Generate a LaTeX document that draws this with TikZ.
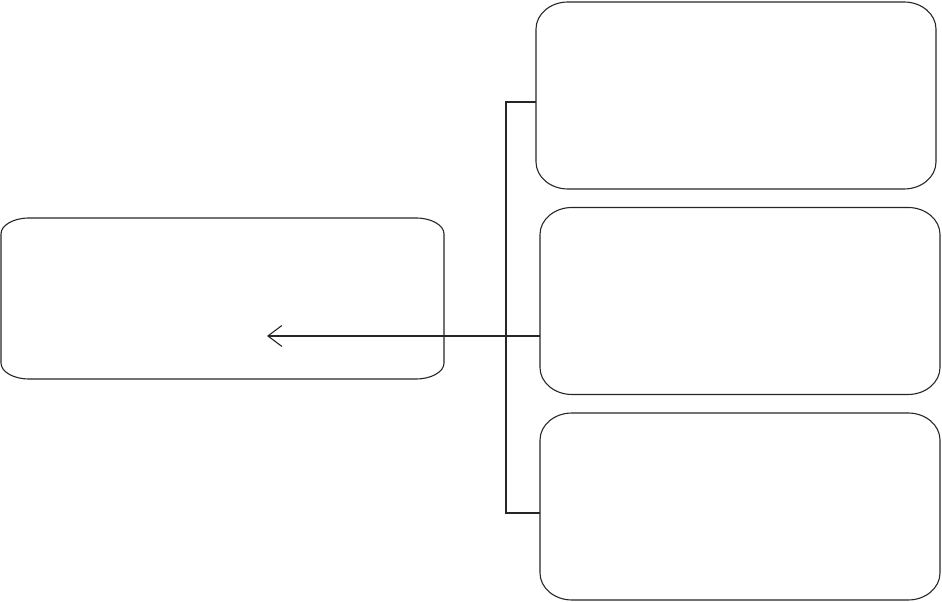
\documentclass[tikz,border=0pt]{standalone}
\usetikzlibrary{arrows.meta}
\newcommand\eroundbox[3]{%
  \draw[boxline] ([xshift=#2pt]#1.north west) -- ([xshift=-#2pt]#1.north east)
    arc[start angle=90, end angle=0, x radius=#2pt, y radius=#3pt]
    -- ([yshift=#3pt]#1.south east)
    arc[start angle=0, end angle=-90, x radius=#2pt, y radius=#3pt]
    -- ([xshift=#2pt]#1.south west)
    arc[start angle=270, end angle=180, x radius=#2pt, y radius=#3pt]
    -- ([yshift=-#3pt]#1.north west)
    arc[start angle=180, end angle=90, x radius=#2pt, y radius=#3pt]
    -- cycle;}
\begin{document}
\begin{tikzpicture}[x=1pt,y=1pt,
  boxline/.style={draw=black!85, line width=1.1pt},
  conn/.style={draw=black!85, line width=1.1pt},
  frame/.style={draw=none, inner sep=0pt, outer sep=0pt, rectangle}]
\useasboundingbox (0,0) rectangle (942,602);
\node[frame, minimum width=443pt, minimum height=161pt] (L) at (222.5,303.5) {};
\node[frame, minimum width=400pt, minimum height=187pt] (A) at (736,506.5) {};
\node[frame, minimum width=400pt, minimum height=187pt] (B) at (740,301) {};
\node[frame, minimum width=400pt, minimum height=187pt] (C) at (740,95.5) {};
\eroundbox{L}{28}{16}
\eroundbox{A}{32}{27}
\eroundbox{B}{32}{27}
\eroundbox{C}{32}{27}
\coordinate (bt) at (506,500);
\coordinate (bb) at (506,89);
\coordinate (tip) at (267,266);
\draw[conn] (A.west |- bt) -- (bt) -- (bb) -- (C.west |- bb);
\draw[conn, -{Straight Barb[length=14pt, width=21pt, line width=1.1pt]}] (B.west |- tip) -- (tip);
\end{tikzpicture}
\end{document}
